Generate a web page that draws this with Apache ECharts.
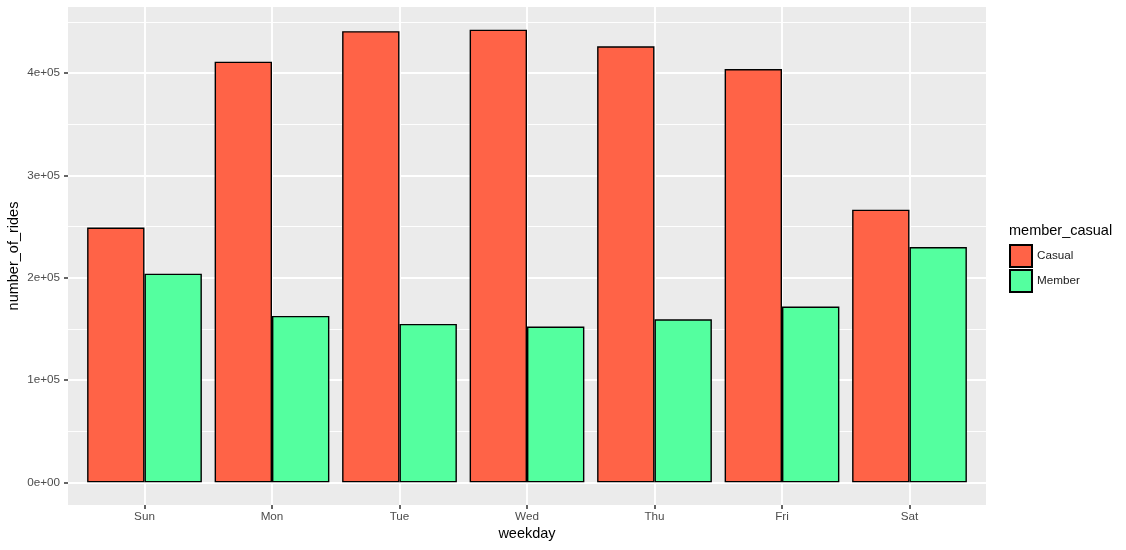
<!DOCTYPE html>
<html>
<head>
<meta charset="utf-8">
<script src="https://cdn.jsdelivr.net/npm/echarts@6/dist/echarts.min.js"></script>
<style>html,body{margin:0;padding:0;background:#fff}#c{width:1126px;height:550px}</style>
</head>
<body>
<div id="c"></div>
<script>
const weekdays = ['Sun', 'Mon', 'Tue', 'Wed', 'Thu', 'Fri', 'Sat'];
const casualRides = [249000, 411200, 441000, 442500, 426200, 404000, 266500];
const memberRides = [204000, 162700, 154900, 152300, 159400, 171800, 230000];
const yTicks = [0, 100000, 200000, 300000, 400000];
const yTickLabels = ['0e+00', '1e+05', '2e+05', '3e+05', '4e+05'];
const yMinor = [50000, 150000, 250000, 350000, 450000];
const seriesNames = ['Casual', 'Member'];
const seriesColors = ['#FF6347', '#54FF9F'];

const yMax = Math.max(...casualRides, ...memberRides);
const yMinAxis = -0.05 * yMax;
const yMaxAxis = 1.05 * yMax;
const FONT = 'Liberation Sans, Arial, sans-serif';

const chart = echarts.init(document.getElementById('c'), null, {renderer: 'canvas'});

const gridLines = [];
yTicks.forEach(v => gridLines.push({yAxis: v, lineStyle: {width: 1.9}}));
yMinor.forEach(v => gridLines.push({yAxis: v, lineStyle: {width: 0.95}}));
weekdays.forEach((d, i) => gridLines.push({xAxis: i, lineStyle: {width: 1.9}}));

const option = {
  animation: false,
  textStyle: {fontFamily: FONT},
  title: {
    text: 'member_casual',
    left: 1009,
    top: 223,
    padding: 0,
    textStyle: {fontFamily: FONT, fontSize: 14.5, fontWeight: 'normal', color: '#000'}
  },
  legend: {
    data: seriesNames,
    orient: 'vertical',
    left: 1009,
    top: 244,
    padding: 0,
    itemWidth: 22,
    itemHeight: 22,
    itemGap: 1,
    itemTextGap: 12,
    icon: 'rect',
    textStyle: {fontFamily: FONT, fontSize: 11.7, color: '#1a1a1a'}
  },
  grid: [
    {left: 68, top: 7, width: 918, height: 498, show: true, backgroundColor: '#EBEBEB', borderWidth: 0, outerBoundsMode: 'none', containLabel: false},
    {left: 68 + 918 / 7.2 * 0.1, top: 7, width: 918 / 7.2 * 7, height: 498, show: false, outerBoundsMode: 'none', containLabel: false}
  ],
  xAxis: [
    {gridIndex: 0, type: 'value', min: -0.6, max: 6.6, show: false},
    {
      gridIndex: 1, type: 'category', data: weekdays,
      name: 'weekday', nameLocation: 'middle', nameGap: 21, nameMoveOverlap: false,
      nameTextStyle: {fontFamily: FONT, fontSize: 14.5, color: '#000'},
      axisLine: {show: false, onZero: false},
      axisTick: {show: true, alignWithLabel: true, length: 4, lineStyle: {color: '#333333', width: 1.5}},
      axisLabel: {margin: 6, fontFamily: FONT, fontSize: 11.7, color: '#4D4D4D'},
      splitLine: {show: false}
    }
  ],
  yAxis: [
    {
      gridIndex: 0, type: 'value', min: yMinAxis, max: yMaxAxis,
      name: 'number_of_rides', nameLocation: 'middle', nameGap: 47, nameMoveOverlap: false,
      nameTextStyle: {fontFamily: FONT, fontSize: 14.5, color: '#000'},
      axisLine: {show: false, onZero: false},
      axisTick: {show: true, length: 4, customValues: yTicks, lineStyle: {color: '#333333', width: 1.5}},
      axisLabel: {
        margin: 8, fontFamily: FONT, fontSize: 11.7, color: '#4D4D4D',
        customValues: yTicks,
        formatter: v => yTickLabels[yTicks.indexOf(v)] ?? ''
      },
      splitLine: {show: false}
    },
    {gridIndex: 1, type: 'value', min: yMinAxis, max: yMaxAxis, show: false}
  ],
  series: [
    {
      type: 'line', xAxisIndex: 0, yAxisIndex: 0, data: [], z: 1, silent: true,
      markLine: {
        silent: true, symbol: 'none', animation: false, z: 1,
        label: {show: false},
        emphasis: {disabled: true},
        lineStyle: {color: '#FFFFFF', type: 'solid'},
        data: gridLines
      }
    },
    {
      name: seriesNames[0], type: 'bar', xAxisIndex: 1, yAxisIndex: 1, data: casualRides, z: 3,
      barGap: '0%', barCategoryGap: '10%',
      itemStyle: {color: seriesColors[0], borderColor: '#000', borderWidth: 1.4}
    },
    {
      name: seriesNames[1], type: 'bar', xAxisIndex: 1, yAxisIndex: 1, data: memberRides, z: 3,
      barGap: '0%', barCategoryGap: '10%',
      itemStyle: {color: seriesColors[1], borderColor: '#000', borderWidth: 1.4}
    }
  ]
};
chart.setOption(option);
</script>
</body>
</html>
